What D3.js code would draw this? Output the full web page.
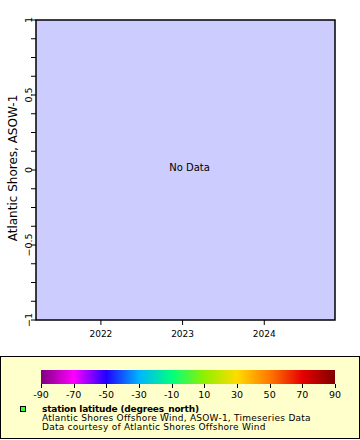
<!DOCTYPE html>
<html lang="en">
<head>
    <meta charset="UTF-8">
    <title>Atlantic Shores, ASOW-1</title>
    <script src="https://d3js.org/d3.v7.min.js"></script>
    <style>
        body { margin: 0; background: #fff; }
        svg { display: block; font-family: "DejaVu Sans", sans-serif; }
    </style>
</head>
<body>
    <div id="chart"></div>
    <script>
        // time range shown on the x axis and the (empty) y range
        const timeRange = [new Date(2021, 2, 17), new Date(2024, 10, 12)];
        const yRange = [-1, 1];
        const yTicks = [-1, -0.5, 0, 0.5, 1];
        const xTicks = [new Date(2022, 0, 1), new Date(2023, 0, 1), new Date(2024, 0, 1)];

        // colour bar for station latitude
        const colorStops = [-90, -70, -50, -30, -10, 10, 30, 50, 70, 90];
        const colorValues = ["#800080", "#ff00ff", "#2000ff", "#00b4ff", "#00ff80",
                             "#90f000", "#ffdc00", "#ff7800", "#e60000", "#800000"];
        const colorTicks = [-90, -70, -50, -30, -10, 10, 30, 50, 70, 90];

        // no stations returned
        const stations = [];

        const legendLines = [
            "Atlantic Shores Offshore Wind, ASOW-1, Timeseries Data",
            "Data courtesy of Atlantic Shores Offshore Wind"
        ];

        const width = 360, height = 440;
        const plot = { left: 36, top: 20, right: 335, bottom: 320 };

        const svg = d3.select("#chart").append("svg")
            .attr("width", width)
            .attr("height", height);

        const x = d3.scaleTime().domain(timeRange).range([plot.left, plot.right]);
        const y = d3.scaleLinear().domain(yRange).range([plot.bottom, plot.top]);

        // plot background
        svg.append("rect")
            .attr("x", plot.left).attr("y", plot.top)
            .attr("width", plot.right - plot.left)
            .attr("height", plot.bottom - plot.top)
            .attr("fill", "#ccccff");

        // y axis: major + minor ticks, rotated labels
        const yAxis = svg.append("g").attr("transform", `translate(${plot.left},0)`);
        yAxis.selectAll(".minor")
            .data(d3.range(yRange[0], yRange[1] + 0.001, 0.125))
            .join("line")
            .attr("x1", -5).attr("x2", 0)
            .attr("y1", d => y(d)).attr("y2", d => y(d))
            .attr("stroke", "#000");
        yAxis.selectAll(".lbl")
            .data(yTicks)
            .join("text")
            .attr("transform", d => `translate(-4,${y(d)}) rotate(-90)`)
            .attr("text-anchor", "middle")
            .attr("font-size", 9.5)
            .text(d => d3.format("")(d));

        svg.append("text")
            .attr("transform", `translate(17,${(plot.top + plot.bottom) / 2 - 2}) rotate(-90)`)
            .attr("text-anchor", "middle")
            .attr("font-size", 12)
            .text("Atlantic Shores, ASOW-1");

        // x axis
        const xAxis = svg.append("g").attr("transform", `translate(0,${plot.bottom})`);
        xAxis.selectAll("line")
            .data(xTicks)
            .join("line")
            .attr("x1", d => x(d)).attr("x2", d => x(d))
            .attr("y1", 0).attr("y2", 5)
            .attr("stroke", "#000");
        xAxis.selectAll("text")
            .data(xTicks)
            .join("text")
            .attr("x", d => x(d)).attr("y", 17)
            .attr("text-anchor", "middle")
            .attr("font-size", 9)
            .text(d3.timeFormat("%Y"));

        // frame
        svg.append("rect")
            .attr("x", plot.left).attr("y", plot.top)
            .attr("width", plot.right - plot.left)
            .attr("height", plot.bottom - plot.top)
            .attr("fill", "none")
            .attr("stroke", "#000")
            .attr("stroke-width", 1.5);

        svg.selectAll(".station")
            .data(stations)
            .join("circle")
            .attr("cx", d => x(d.time)).attr("cy", d => y(d.value)).attr("r", 3);

        if (stations.length === 0) {
            svg.append("text")
                .attr("x", (plot.left + plot.right) / 2 + 4)
                .attr("y", y(0) + 1)
                .attr("text-anchor", "middle")
                .attr("font-size", 10)
                .text("No Data");
        }

        // legend box
        svg.append("rect")
            .attr("x", 0.5).attr("y", 356.5)
            .attr("width", 359).attr("height", 82)
            .attr("fill", "#ffffcc")
            .attr("stroke", "#000");

        const color = d3.scaleLinear().domain(colorStops).range(colorValues);
        const cx = d3.scaleLinear().domain([colorStops[0], colorStops[colorStops.length - 1]]).range([41, 335]);
        const barTop = 370, barH = 14;

        svg.append("g").selectAll("rect")
            .data(d3.range(41, 335))
            .join("rect")
            .attr("x", d => d).attr("y", barTop)
            .attr("width", 1).attr("height", barH)
            .attr("fill", d => color(cx.invert(d + 0.5)));

        const cAxis = svg.append("g").attr("transform", `translate(0,${barTop + barH})`);
        cAxis.selectAll("line")
            .data(colorTicks)
            .join("line")
            .attr("x1", d => Math.round(cx(d)) + 0.5).attr("x2", d => Math.round(cx(d)) + 0.5)
            .attr("y1", 0).attr("y2", 4)
            .attr("stroke", "#000");
        cAxis.selectAll("text")
            .data(colorTicks)
            .join("text")
            .attr("x", d => cx(d)).attr("y", 14)
            .attr("text-anchor", "middle")
            .attr("font-size", 9.5)
            .text(d => d);

        // legend marker and text
        svg.append("rect")
            .attr("x", 20.5).attr("y", 406.5)
            .attr("width", 5).attr("height", 5)
            .attr("fill", "#33ff33")
            .attr("stroke", "#000");
        svg.append("text")
            .attr("x", 42).attr("y", 412)
            .attr("font-size", 9).attr("font-weight", "bold")
            .attr("letter-spacing", -0.2)
            .text("station latitude (degrees_north)");
        svg.selectAll(".ll")
            .data(legendLines)
            .join("text")
            .attr("x", 42).attr("y", (d, i) => 421 + i * 9)
            .attr("font-size", 9)
            .attr("letter-spacing", 0.25)
            .text(d => d);
    </script>
</body>
</html>
